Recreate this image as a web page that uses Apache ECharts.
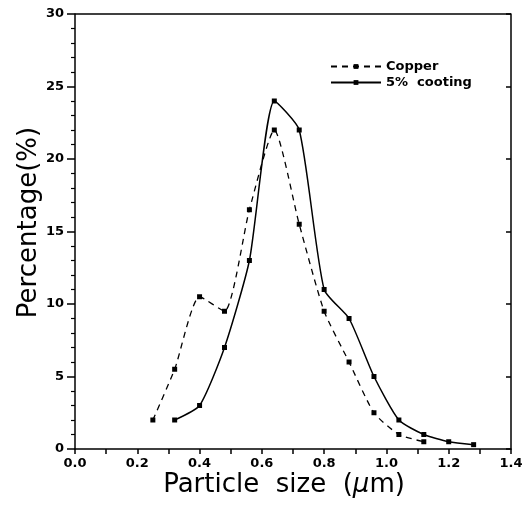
<!DOCTYPE html>
<html>
<head>
<meta charset="utf-8">
<script src="https://cdn.jsdelivr.net/npm/echarts@6/dist/echarts.min.js"></script>
<style>
  html, body { margin: 0; padding: 0; background: #fff; }
  #chart { width: 529px; height: 505px; }
</style>
</head>
<body>
<div id="chart"></div>
<script>
  // values
  var copperX = [0.25, 0.32, 0.40, 0.48, 0.56, 0.64, 0.72, 0.80, 0.88, 0.96, 1.04, 1.12];
  var copperY = [2, 5.5, 10.5, 9.5, 16.5, 22, 15.5, 9.5, 6, 2.5, 1, 0.5];
  var coatX = [0.32, 0.40, 0.48, 0.56, 0.64, 0.72, 0.80, 0.88, 0.96, 1.04, 1.12, 1.20, 1.28];
  var coatY = [2, 3, 7, 13, 24, 22, 11, 9, 5, 2, 1, 0.5, 0.3];
  var seriesNames = ['Copper', '5%  cooting'];

  function pairs(xs, ys) {
    return xs.map(function (x, i) { return [x, ys[i]]; });
  }

  var font = 'DejaVu Sans, Arial, sans-serif';
  var chart = echarts.init(document.getElementById('chart'));
  chart.setOption({
    animation: false,
    grid: { left: 75, right: 18, top: 14, bottom: 56 },
    legend: {
      orient: 'vertical',
      left: 325,
      top: 55,
      itemWidth: 50,
      itemHeight: 6,
      itemGap: 3,
      data: seriesNames,
      textStyle: { fontFamily: font, fontSize: 13, color: '#000', fontWeight: 'bold' }
    },
    xAxis: {
      type: 'value',
      min: 0,
      max: 1.4,
      interval: 0.2,
      name: 'Particle  size  ({i|μ}m)',
      nameLocation: 'middle',
      nameGap: 23,
      nameMoveOverlap: false,
      nameTextStyle: {
        fontFamily: font, fontSize: 26, color: '#000', padding: [0, 18, 0, 0],
        rich: { i: { fontFamily: font, fontSize: 26, fontStyle: 'italic', color: '#000' } }
      },
      axisLine: { show: true, lineStyle: { color: '#000', width: 1.5 } },
      axisTick: { show: true, inside: false, length: 5, lineStyle: { color: '#000', width: 1.5 } },
      minorTick: { show: true, splitNumber: 2, length: 5, lineStyle: { color: '#000', width: 1.5 } },
      axisLabel: {
        fontFamily: font, fontSize: 13, fontWeight: 'bold', color: '#000', margin: 8,
        formatter: function (v) { return v.toFixed(1); }
      },
      splitLine: { show: false }
    },
    yAxis: [{
      type: 'value',
      min: 0,
      max: 30,
      interval: 5,
      name: 'Percentage(%)',
      nameLocation: 'middle',
      nameGap: 33,
      nameMoveOverlap: false,
      nameTextStyle: { fontFamily: font, fontSize: 26, color: '#000', padding: [0, 0, 0, 18] },
      axisLine: { show: true, lineStyle: { color: '#000', width: 1.5 } },
      axisTick: { show: true, length: 8, lineStyle: { color: '#000', width: 1.5 } },
      minorTick: { show: true, splitNumber: 5, length: 4, lineStyle: { color: '#000', width: 1.2 } },
      axisLabel: { fontFamily: font, fontSize: 13, fontWeight: 'bold', color: '#000', margin: 11 },
      splitLine: { show: false }
    }, {
      type: 'value',
      position: 'right',
      min: 0,
      max: 30,
      interval: 5,
      axisLine: { show: true, lineStyle: { color: '#000', width: 1.5 } },
      axisTick: { show: true, inside: true, length: 5, lineStyle: { color: '#000', width: 1.5 } },
      axisLabel: { show: false },
      splitLine: { show: false }
    }],
    graphic: [{
      type: 'line',
      shape: { x1: 75, y1: 14, x2: 511, y2: 14 },
      style: { stroke: '#000', lineWidth: 1.5 }
    }],
    series: [{
      name: seriesNames[0],
      type: 'line',
      smooth: 0.2,
      data: pairs(copperX, copperY),
      symbol: 'rect',
      symbolSize: 5,
      itemStyle: { color: '#000' },
      lineStyle: { color: '#000', width: 1.3, type: [6, 5] }
    }, {
      name: seriesNames[1],
      type: 'line',
      smooth: 0.2,
      data: pairs(coatX, coatY),
      symbol: 'rect',
      symbolSize: 5,
      itemStyle: { color: '#000' },
      lineStyle: { color: '#000', width: 1.5 }
    }]
  });
</script>
</body>
</html>
